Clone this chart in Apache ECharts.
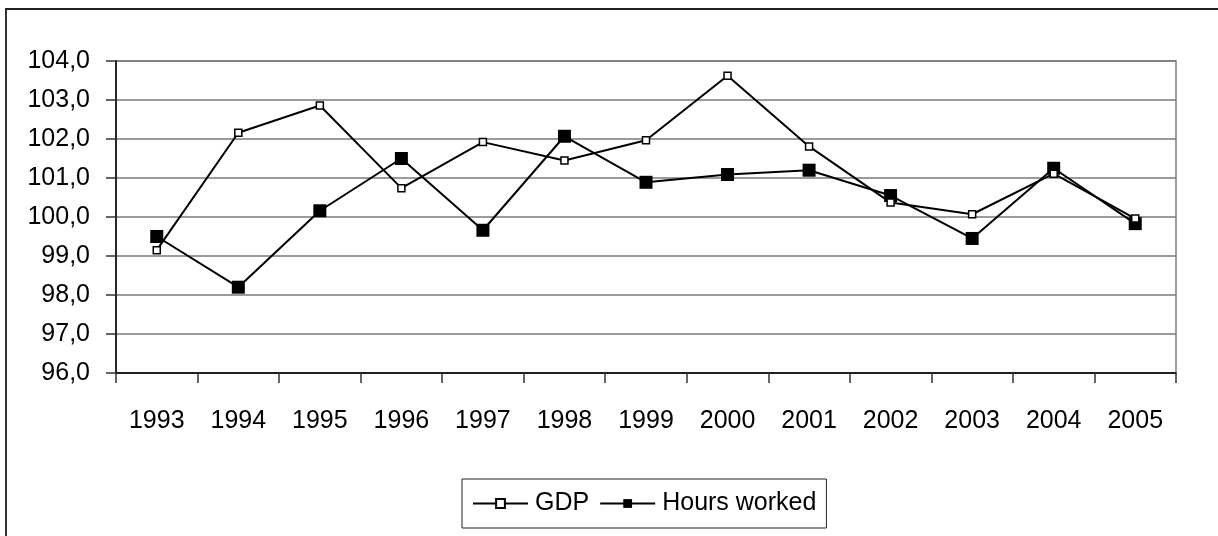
<!DOCTYPE html>
<html>
<head>
<meta charset="utf-8">
<script src="https://cdn.jsdelivr.net/npm/echarts@6/dist/echarts.min.js"></script>
<style>
    html, body { margin: 0; padding: 0; background: #fff; }
    #frame { position: absolute; left: 5px; top: 8px; right: -10px; bottom: -10px; border-left: 2px solid #333; border-top: 2px solid #222; }
    #main { position: absolute; left: 0; top: 0; width: 1218px; height: 536px; }
</style>
</head>
<body>
<div id="frame"></div>
<div id="main"></div>
<script>
var years = ['1993', '1994', '1995', '1996', '1997', '1998', '1999', '2000', '2001', '2002', '2003', '2004', '2005'];
var gdp = [99.15, 102.16, 102.86, 100.74, 101.92, 101.45, 101.97, 103.62, 101.81, 100.37, 100.07, 101.11, 99.96];
var hoursWorked = [99.5, 98.2, 100.16, 101.5, 99.66, 102.07, 100.89, 101.09, 101.2, 100.55, 99.45, 101.25, 99.83];
var yMin = 96, yMax = 104, yStep = 1;

// no narrow font installed, so Liberation Sans a bit smaller
var FONT = "'Liberation Sans', Arial, sans-serif";

var myChart = echarts.init(document.getElementById('main'));
var option = {
    backgroundColor: 'transparent',
    animation: false,
    grid: {
        left: 116,
        right: 42,
        top: 61,
        bottom: 163,
        show: true,
        borderColor: '#808080',
        borderWidth: 1.5
    },
    legend: {
        left: 462,
        top: 479,
        padding: [12, 10, 12, 10],
        itemGap: 10,
        itemWidth: 55,
        itemHeight: 11,
        borderColor: '#222',
        borderWidth: 1,
        textStyle: { fontFamily: FONT, fontSize: 25, color: '#000', padding: [0, 0, 0, 2] },
        data: ['GDP', 'Hours worked']
    },
    xAxis: {
        type: 'category',
        boundaryGap: true,
        data: years,
        axisLine: { lineStyle: { color: '#000', width: 1.5 } },
        axisTick: { show: true, interval: 0, length: 10, lineStyle: { color: '#333', width: 1.5 } },
        axisLabel: { interval: 0, margin: 36, fontFamily: FONT, fontSize: 25, color: '#000' },
        splitLine: { show: false }
    },
    yAxis: {
        type: 'value',
        min: yMin,
        max: yMax,
        interval: yStep,
        axisLine: { show: true, lineStyle: { color: '#000', width: 1.5 } },
        axisTick: { show: true, length: 10, lineStyle: { color: '#333', width: 1.5 } },
        axisLabel: {
            margin: 26,
            fontFamily: FONT,
            fontSize: 25,
            color: '#000',
            formatter: function (v) { return v.toFixed(1).replace('.', ','); }
        },
        splitLine: { show: true, lineStyle: { color: '#7a7a7a', width: 1.5 } }
    },
    series: [
        {
            name: 'GDP',
            type: 'line',
            data: gdp,
            symbol: 'rect',
            symbolSize: 7,
            showAllSymbol: true,
            lineStyle: { color: '#000', width: 2 },
            itemStyle: { color: '#fff', borderColor: '#000', borderWidth: 1.5 },
            z: 3
        },
        {
            name: 'Hours worked',
            type: 'line',
            data: hoursWorked,
            symbol: 'rect',
            symbolSize: 13,
            showAllSymbol: true,
            lineStyle: { color: '#000', width: 2 },
            itemStyle: { color: '#000', borderColor: '#000', borderWidth: 0 },
            z: 2
        }
    ]
};
myChart.setOption(option);
</script>
</body>
</html>
